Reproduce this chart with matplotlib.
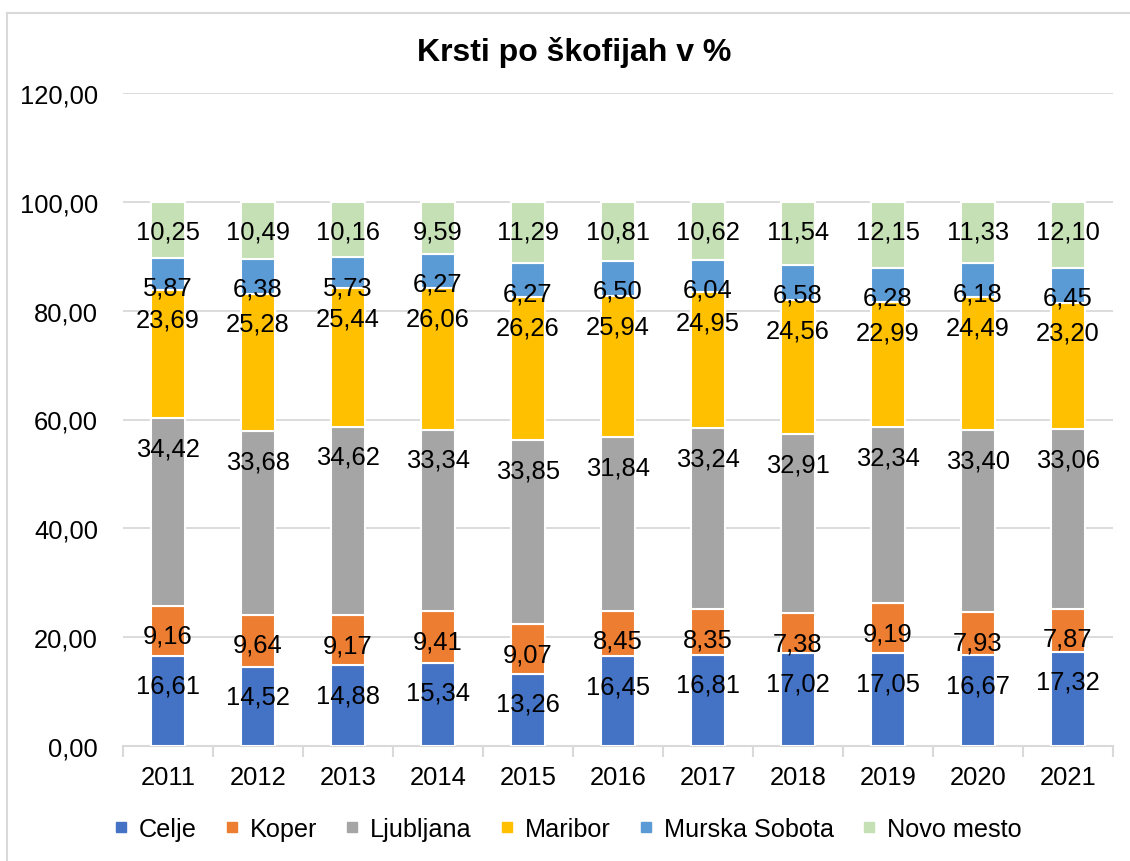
import matplotlib
matplotlib.use("Agg")
import matplotlib.pyplot as plt
from matplotlib.lines import Line2D
import numpy as np

plt.rcParams['font.family'] = ['Liberation Sans', 'DejaVu Sans']

years = ['2011', '2012', '2013', '2014', '2015', '2016', '2017', '2018', '2019', '2020', '2021']
series_names = ['Celje', 'Koper', 'Ljubljana', 'Maribor', 'Murska Sobota', 'Novo mesto']
celje = [16.61, 14.52, 14.88, 15.34, 13.26, 16.45, 16.81, 17.02, 17.05, 16.67, 17.32]
koper = [9.16, 9.64, 9.17, 9.41, 9.07, 8.45, 8.35, 7.38, 9.19, 7.93, 7.87]
ljubljana = [34.42, 33.68, 34.62, 33.34, 33.85, 31.84, 33.24, 32.91, 32.34, 33.40, 33.06]
maribor = [23.69, 25.28, 25.44, 26.06, 26.26, 25.94, 24.95, 24.56, 22.99, 24.49, 23.20]
murska_sobota = [5.87, 6.38, 5.73, 6.27, 6.27, 6.50, 6.04, 6.58, 6.28, 6.18, 6.45]
novo_mesto = [10.25, 10.49, 10.16, 9.59, 11.29, 10.81, 10.62, 11.54, 12.15, 11.33, 12.10]
colors = ['#4472C4', '#ED7D31', '#A5A5A5', '#FFC000', '#5B9BD5', '#C5E0B4']
yticks = [0, 20, 40, 60, 80, 100, 120]

series = [celje, koper, ljubljana, maribor, murska_sobota, novo_mesto]

W, H = 1130, 862
fig = plt.figure(figsize=(W / 100, H / 100), dpi=100)
ax = fig.add_axes([123 / W, 1 - 747 / H, (1113 - 123) / W, (747 - 94) / H])

x = np.arange(len(years))
bottom = np.zeros(len(years))
FS = 18.4
for name, vals, col in zip(series_names, series, colors):
    vals = np.array(vals)
    ax.bar(x, vals, width=0.37, bottom=bottom, color=col, edgecolor='white',
           linewidth=1.5, zorder=3, label=name)
    tops = bottom + vals
    for xi, top, v in zip(x, tops, vals):
        ax.annotate(f"{v:.2f}".replace('.', ','), xy=(xi, top), xytext=(0, -30),
                    textcoords='offset pixels', ha='center', va='center',
                    fontsize=FS, color='black', zorder=5)
    bottom = tops

ax.set_xlim(-0.5, len(years) - 0.5)
ax.set_ylim(0, 120)
ax.set_yticks(yticks)
ax.set_yticklabels([f"{t:.2f}".replace('.', ',') for t in yticks], fontsize=FS)
ax.set_xticks(x)
ax.set_xticklabels(years, fontsize=FS)
ax.set_xticks(np.arange(len(years) + 1) - 0.5, minor=True)
ax.tick_params(axis='x', which='major', length=0, pad=14)
ax.tick_params(axis='x', which='minor', length=8, color='#D9D9D9', width=1.5)
ax.tick_params(axis='y', length=0, pad=18)
ax.grid(axis='y', color='#D9D9D9', linewidth=1.3, zorder=0)
ax.set_axisbelow(True)
for s in ['top', 'right', 'left']:
    ax.spines[s].set_visible(False)
ax.spines['bottom'].set_color('#D9D9D9')
ax.spines['bottom'].set_linewidth(1.5)

fig.text(574 / W, 1 - 53 / H, 'Krsti po škofijah v %', ha='center', va='center',
         fontsize=23, fontweight='bold')

handles = [Line2D([], [], marker='s', linestyle='none', markersize=6.5,
                  markerfacecolor=c, markeredgecolor=c) for c in colors]
fig.legend(handles, series_names, loc='center', bbox_to_anchor=(568 / W, 1 - 830 / H),
           ncol=6, frameon=False, fontsize=18.2, handlelength=0.5, handletextpad=0.45,
           columnspacing=1.15, borderaxespad=0)

fig.add_artist(Line2D([7 / W, 7 / W], [0, 1 - 14 / H], color='#D9D9D9', linewidth=1.5,
                      transform=fig.transFigure))
fig.add_artist(Line2D([7 / W, 1], [1 - 14 / H, 1 - 14 / H], color='#D9D9D9', linewidth=1.5,
                      transform=fig.transFigure))

fig.savefig('out.png', dpi=100)
